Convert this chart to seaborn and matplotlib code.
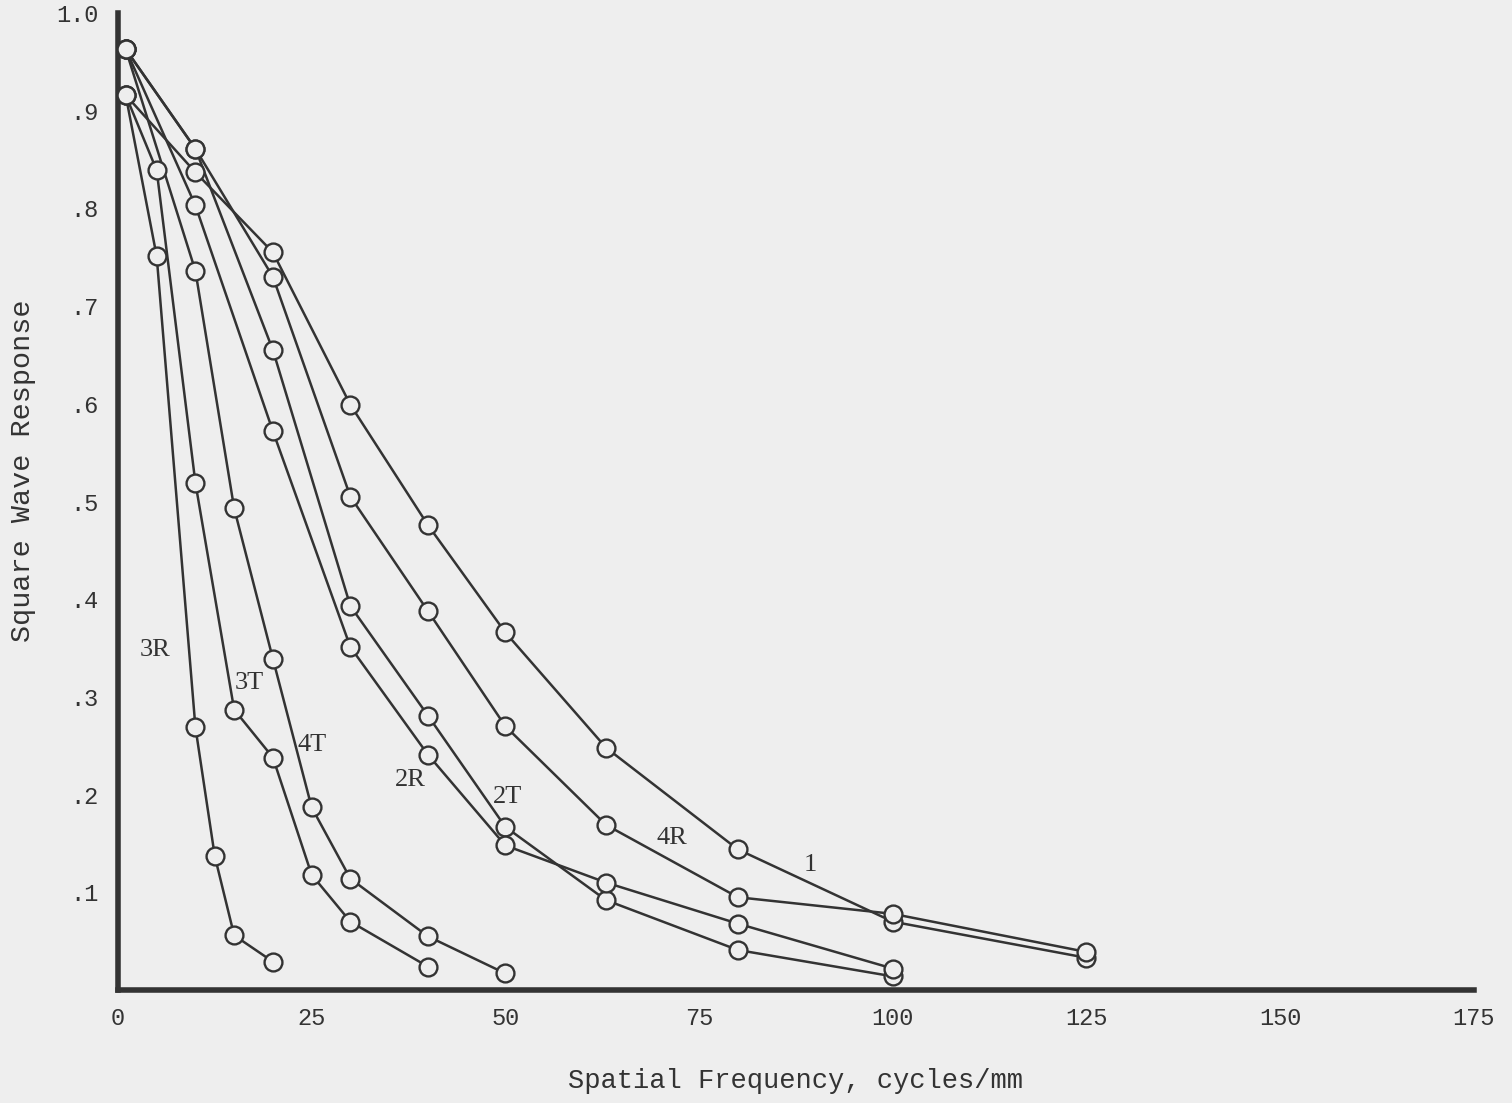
import pandas as pd
import matplotlib.pyplot as plt
import seaborn as sns

# values
freq_1 = [1, 10, 20, 30, 40, 50, 63, 80, 100, 125]
resp_1 = [0.916, 0.837, 0.755, 0.599, 0.476, 0.366, 0.248, 0.144, 0.070, 0.033]

freq_4r = [1, 10, 20, 30, 40, 50, 63, 80, 100, 125]
resp_4r = [0.963, 0.861, 0.730, 0.505, 0.388, 0.270, 0.169, 0.095, 0.078, 0.039]

freq_2t = [1, 10, 20, 30, 40, 50, 63, 80, 100]
resp_2t = [0.963, 0.861, 0.655, 0.393, 0.281, 0.167, 0.092, 0.041, 0.014]

freq_2r = [1, 10, 20, 30, 40, 50, 63, 80, 100]
resp_2r = [0.963, 0.803, 0.572, 0.351, 0.241, 0.148, 0.110, 0.068, 0.022]

freq_4t = [1, 10, 15, 20, 25, 30, 40, 50]
resp_4t = [0.963, 0.736, 0.493, 0.339, 0.187, 0.114, 0.055, 0.017]

freq_3t = [1, 5, 10, 15, 20, 25, 30, 40]
resp_3t = [0.916, 0.839, 0.519, 0.287, 0.238, 0.118, 0.070, 0.024]

freq_3r = [1, 5, 10, 12.5, 15, 20]
resp_3r = [0.916, 0.751, 0.269, 0.137, 0.056, 0.029]

curve_names = ['1', '4R', '2T', '2R', '4T', '3T', '3R']
x_ticks = [0, 25, 50, 75, 100, 125, 150, 175]
y_ticks = [0.1, 0.2, 0.3, 0.4, 0.5, 0.6, 0.7, 0.8, 0.9, 1.0]
y_tick_labels = ['.1', '.2', '.3', '.4', '.5', '.6', '.7', '.8', '.9', '1.0']

frames = []
for name, f, r in zip(curve_names,
                      [freq_1, freq_4r, freq_2t, freq_2r, freq_4t, freq_3t, freq_3r],
                      [resp_1, resp_4r, resp_2t, resp_2r, resp_4t, resp_3t, resp_3r]):
    frames.append(pd.DataFrame({'curve': name, 'freq': f, 'resp': r}))
dados = pd.concat(frames, ignore_index=True)

bg = '#eeeeee'
ink = '#333333'

sns.set_theme(style='white')
plt.rcParams['font.family'] = ['Liberation Mono', 'DejaVu Sans Mono']

fig = plt.figure(figsize=(15.12, 11.03), dpi=100, facecolor=bg)
ax = fig.add_axes([0.078, 0.1024, 0.8968, 0.8858])
ax.set_facecolor(bg)

sns.lineplot(data=dados, x='freq', y='resp', units='curve', estimator=None,
             sort=False, color=ink, linewidth=1.8, legend=False, ax=ax)
sns.scatterplot(data=dados, x='freq', y='resp', s=165, color=bg,
                edgecolor=ink, linewidth=1.7, legend=False, zorder=3, ax=ax)

# curve labels
labels_pos = {'3R': (4.8, 0.348), '3T': (17.0, 0.314), '4T': (25.0, 0.251),
              '2R': (37.7, 0.215), '2T': (50.3, 0.198), '4R': (71.5, 0.156),
              '1': (89.3, 0.128)}
for txt, (lx, ly) in labels_pos.items():
    ax.text(lx, ly, txt, ha='center', va='center', fontsize=19,
            family=['Liberation Serif', 'DejaVu Serif'], color=ink)

ax.set_xlim(0, 175)
ax.set_ylim(0, 1.0)
ax.set_xticks(x_ticks)
ax.set_xticklabels([str(t) for t in x_ticks])
ax.set_yticks(y_ticks)
ax.set_yticklabels(y_tick_labels)

ax.spines[['top', 'right']].set_visible(False)
for s in ['left', 'bottom']:
    ax.spines[s].set_linewidth(4)
    ax.spines[s].set_color(ink)

ax.tick_params(axis='y', direction='in', length=8, width=2, pad=14,
               labelsize=17, colors=ink)
ax.tick_params(axis='x', direction='in', length=10, width=1.5, pad=12,
               labelsize=17, colors=ink)

ax.set_xlabel('Spatial Frequency, cycles/mm', fontsize=19.5, color=ink)
ax.set_ylabel('Square Wave Response', fontsize=20.5, color=ink)
ax.xaxis.set_label_coords(0.5, -0.080)
ax.yaxis.set_label_coords(-0.0605, 0.532)

plt.savefig('out.png', dpi=100, facecolor=bg)
